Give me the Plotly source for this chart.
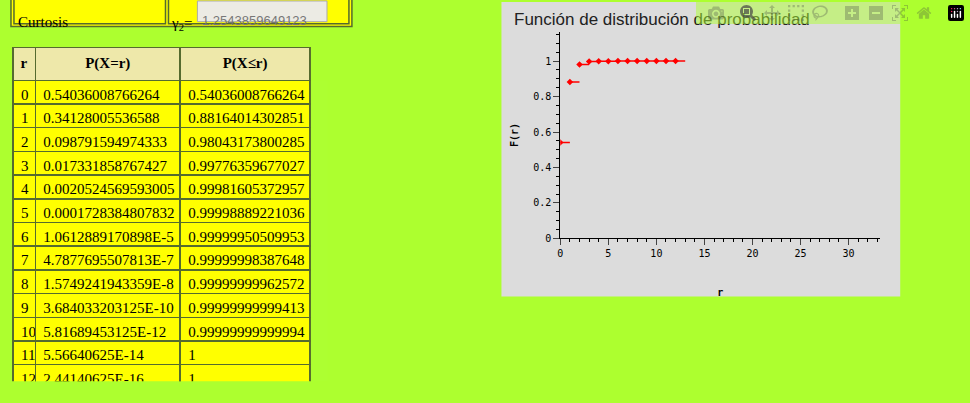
import plotly.graph_objects as go

r_vals = list(range(13))
p_eq = ["0.54036008766264", "0.34128005536588", "0.098791594974333", "0.017331858767427",
        "0.0020524569593005", "0.0001728384807832", "1.0612889170898E-5", "4.7877695507813E-7",
        "1.5749241943359E-8", "3.684033203125E-10", "5.81689453125E-12", "5.56640625E-14",
        "2.44140625E-16"]
p_le = ["0.54036008766264", "0.88164014302851", "0.98043173800285", "0.99776359677027",
        "0.99981605372957", "0.99998889221036", "0.99999950509953", "0.99999998387648",
        "0.99999999962572", "0.99999999999413", "0.99999999999994", "1", "1"]
curtosis = "1.2543859649123"

W, H = 970, 403
def px(x): return x / W
def py(y): return 1 - y / H

fig = go.Figure()

# tabla de probabilidades
fig.add_trace(go.Table(
    domain=dict(x=[px(10), px(308)], y=[py(388), py(48)]),
    columnwidth=[22, 143, 128],
    header=dict(values=["<b>r</b>", "<b>P(X=r)</b>", "<b>P(X≤r)</b>"],
                fill_color="#eee8aa", line=dict(color="#556b2f", width=1.5),
                font=dict(family="Liberation Serif", size=15, color="black"),
                align="center", height=23),
    cells=dict(values=[[str(r) for r in r_vals], p_eq, p_le],
               fill_color="yellow", line=dict(color="#556b2f", width=1.5),
               font=dict(family="Liberation Serif", size=15, color="black"),
               align="left", height=23.7),
))

# F(r): escalones
seg_x, seg_y = [], []
for r, v in zip(r_vals, p_le):
    seg_x += [r, r + 1, None]
    seg_y += [float(v), float(v), None]
fig.add_trace(go.Scatter(x=seg_x, y=seg_y, mode="lines", line=dict(color="red", width=1.5),
                         hoverinfo="skip", showlegend=False))
fig.add_trace(go.Scatter(x=r_vals, y=[float(v) for v in p_le], mode="markers",
                         marker=dict(symbol="diamond", size=5, color="red"), showlegend=False))

shapes = [
    dict(type="rect", xref="paper", yref="paper", x0=px(500), x1=px(900), y0=py(301), y1=py(2),
         fillcolor="#dcdcdc", line_width=0, layer="below"),
    dict(type="rect", xref="paper", yref="paper", x0=px(8), x1=px(350), y0=py(27), y1=py(-3),
         fillcolor="yellow", line=dict(color="#556b2f", width=1.5), layer="below"),
    dict(type="rect", xref="paper", yref="paper", x0=px(11), x1=px(163), y0=py(24), y1=py(-3),
         fillcolor="yellow", line=dict(color="#556b2f", width=1.5), layer="below"),
    dict(type="rect", xref="paper", yref="paper", x0=px(166), x1=px(347), y0=py(24), y1=py(-3),
         fillcolor="yellow", line=dict(color="#556b2f", width=1.5), layer="below"),
    dict(type="rect", xref="paper", yref="paper", x0=px(195), x1=px(325), y0=py(22), y1=py(1),
         fillcolor="#ecebe4", line=dict(color="#aaaaaa", width=1), layer="below"),
]
annotations = [
    dict(text="Curtosis", x=px(13), y=py(12), xref="paper", yref="paper", xanchor="left",
         showarrow=False, font=dict(family="Liberation Serif", size=15, color="black")),
    dict(text="γ<sub>2</sub>=", x=px(167), y=py(13), xref="paper", yref="paper", xanchor="left",
         showarrow=False, font=dict(family="Liberation Serif", size=15, color="black")),
    dict(text=curtosis, x=px(198), y=py(11), xref="paper", yref="paper", xanchor="left",
         showarrow=False, font=dict(family="Liberation Sans", size=13, color="#777777")),
]

mono = dict(family="DejaVu Sans Mono", size=10, color="black")
fig.update_layout(
    width=W, height=H, margin=dict(l=0, r=0, t=0, b=0),
    paper_bgcolor="#adff2f", plot_bgcolor="#dcdcdc",
    shapes=shapes, annotations=annotations,
    title=dict(text="Función de distribución de probabilidad", x=px(514), xanchor="left",
               y=py(19), yanchor="middle", font=dict(family="Liberation Sans", size=17, color="#222")),
    xaxis=dict(domain=[px(559), px(880)], range=[0, 33.3], tickvals=[0, 5, 10, 15, 20, 25, 30],
               ticks="outside", ticklen=6, showgrid=False, zeroline=False, showline=True,
               linecolor="black", tickfont=mono,
               minor=dict(dtick=1, ticks="outside", ticklen=3, tickcolor="black"),
               title=dict(text="<b>r</b>", font=mono, standoff=30)),
    yaxis=dict(domain=[py(242), py(32)], range=[0, 1.167], tickvals=[0, 0.2, 0.4, 0.6, 0.8, 1],
               ticks="outside", ticklen=6, showgrid=False, zeroline=False, showline=True,
               linecolor="black", tickfont=mono,
               minor=dict(dtick=0.05, ticks="outside", ticklen=3, tickcolor="black"),
               title=dict(text="<b>F(r)</b>", font=mono, standoff=12)),
)

fig.write_html("out.html",
               post_script="document.body.style.margin='0';document.body.style.background='#adff2f';")
